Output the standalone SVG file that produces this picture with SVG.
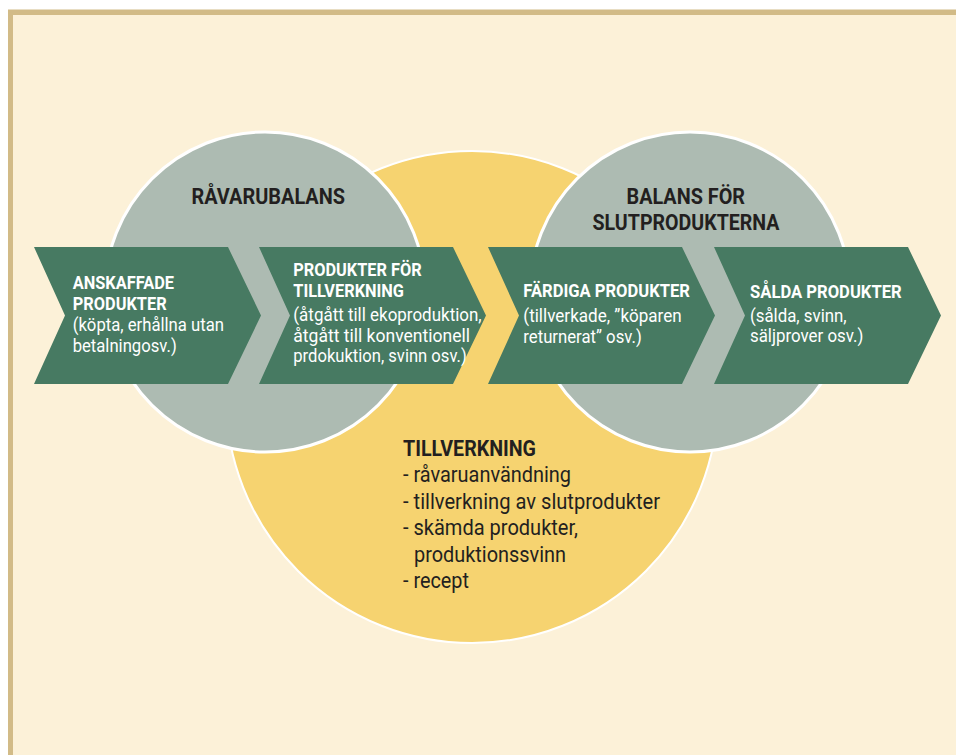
<svg xmlns="http://www.w3.org/2000/svg" width="956" height="755" viewBox="0 0 956 755">
<defs>
<style>
.bg{fill:#FCF1D8}
.border{fill:#D2BB87}
.gray{fill:#ADBBB2;stroke:#FFFFFF;stroke-width:3}
.yellow{fill:#F6D370;stroke:#FFFFFF;stroke-width:2}
.chev{fill:#477A62}
.wb{font-family:Roboto,"Liberation Sans",sans-serif;font-weight:bold;font-size:18px;fill:#FFFFFF}
.wr{font-family:Roboto,"Liberation Sans",sans-serif;font-size:18px;fill:#FFFFFF}
.db{font-family:Roboto,"Liberation Sans",sans-serif;font-weight:bold;font-size:21.5px;fill:#231F20}
.dr{font-family:Roboto,"Liberation Sans",sans-serif;font-size:21.5px;fill:#231F20}
</style>
</defs>
<rect x="0" y="0" width="956" height="755" fill="#FFFFFF"/>
<rect class="border" x="8" y="9.5" width="948" height="745.5"/>
<rect class="bg" x="13" y="15" width="943" height="740"/>

<g id="tillverkning">
<circle class="yellow" cx="472" cy="397" r="246"/>
<text class="db" x="403" y="456" textLength="133" lengthAdjust="spacingAndGlyphs">TILLVERKNING</text>
<text class="dr" x="403" y="482" textLength="168" lengthAdjust="spacingAndGlyphs">- råvaruanvändning</text>
<text class="dr" x="403" y="508.5" textLength="257" lengthAdjust="spacingAndGlyphs">- tillverkning av slutprodukter</text>
<text class="dr" x="403" y="535" textLength="175" lengthAdjust="spacingAndGlyphs">- skämda produkter,</text>
<text class="dr" x="414" y="561.5" textLength="152" lengthAdjust="spacingAndGlyphs">produktionssvinn</text>
<text class="dr" x="403" y="587.5" textLength="66" lengthAdjust="spacingAndGlyphs">- recept</text>
</g>

<g id="ravarubalans">
<circle class="gray" cx="265" cy="292" r="160"/>
<text class="db" x="191.5" y="203.5" textLength="153.5" lengthAdjust="spacingAndGlyphs">RÅVARUBALANS</text>
</g>

<g id="balans-slutprodukter">
<circle class="gray" cx="690" cy="292" r="160"/>
<text class="db" x="626.5" y="204" textLength="118.5" lengthAdjust="spacingAndGlyphs">BALANS FÖR</text>
<text class="db" x="592.5" y="230" textLength="187" lengthAdjust="spacingAndGlyphs">SLUTPRODUKTERNA</text>
</g>

<g id="anskaffade">
<path class="chev" d="M34,247 H228 L261,315.5 L228,384 H34 L65,315.5 Z"/>
<text class="wb" x="72.7" y="289.3" textLength="101.3" lengthAdjust="spacingAndGlyphs">ANSKAFFADE</text>
<text class="wb" x="72.7" y="310" textLength="94" lengthAdjust="spacingAndGlyphs">PRODUKTER</text>
<text class="wr" x="72.7" y="331" textLength="151.3" lengthAdjust="spacingAndGlyphs">(köpta, erhållna utan</text>
<text class="wr" x="72.7" y="352" textLength="104" lengthAdjust="spacingAndGlyphs">betalningosv.)</text>
</g>

<g id="produkter-tillverkning">
<path class="chev" d="M259,247 H453 L486,315.5 L453,384 H259 L290,315.5 Z"/>
<text class="wb" x="293.3" y="276" textLength="128.4" lengthAdjust="spacingAndGlyphs">PRODUKTER FÖR</text>
<text class="wb" x="293.3" y="297" textLength="110.7" lengthAdjust="spacingAndGlyphs">TILLVERKNING</text>
<text class="wr" x="293.3" y="320.7" textLength="188.4" lengthAdjust="spacingAndGlyphs">(åtgått till ekoproduktion,</text>
<text class="wr" x="293.3" y="341.7" textLength="176.7" lengthAdjust="spacingAndGlyphs">åtgått till konventionell</text>
<text class="wr" x="293.3" y="362" textLength="173.4" lengthAdjust="spacingAndGlyphs">prdokuktion, svinn osv.)</text>
</g>

<g id="fardiga">
<path class="chev" d="M488,247 H682 L715,315.5 L682,384 H488 L519,315.5 Z"/>
<text class="wb" x="523.3" y="297.3" textLength="166.7" lengthAdjust="spacingAndGlyphs">FÄRDIGA PRODUKTER</text>
<text class="wr" x="523.3" y="321.7" textLength="158.4" lengthAdjust="spacingAndGlyphs">(tillverkade, ”köparen</text>
<text class="wr" x="523.3" y="342.7" textLength="118.4" lengthAdjust="spacingAndGlyphs">returnerat” osv.)</text>
</g>

<g id="salda">
<path class="chev" d="M714,247 H908 L941,315.5 L908,384 H714 L745,315.5 Z"/>
<text class="wb" x="750" y="298.3" textLength="151.7" lengthAdjust="spacingAndGlyphs">SÅLDA PRODUKTER</text>
<text class="wr" x="750" y="321.7" textLength="96.7" lengthAdjust="spacingAndGlyphs">(sålda, svinn,</text>
<text class="wr" x="750" y="341.7" textLength="113.3" lengthAdjust="spacingAndGlyphs">säljprover osv.)</text>
</g>

<g id="connectors"></g>
</svg>
